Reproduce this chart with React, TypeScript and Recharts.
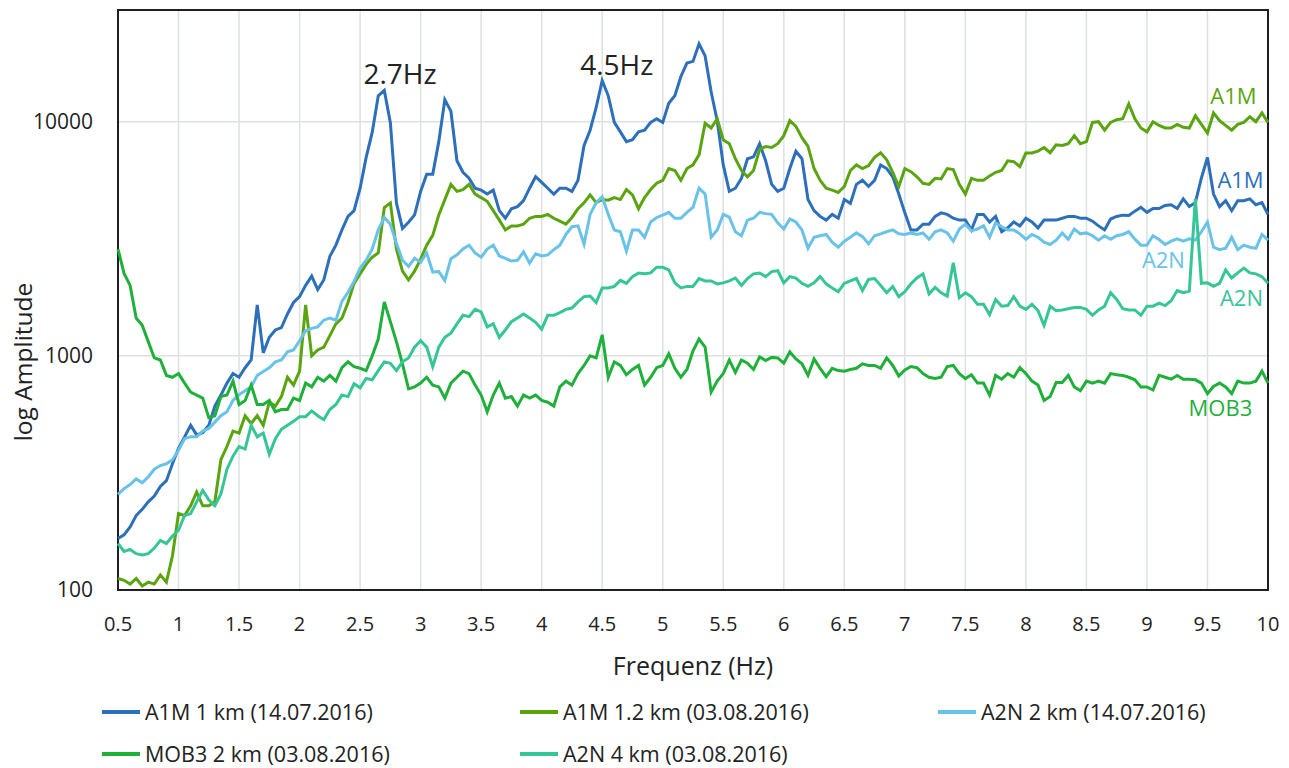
import {
  LineChart,
  Line,
  XAxis,
  YAxis,
  CartesianGrid,
  Legend,
  ReferenceArea,
  ReferenceDot,
} from "recharts";

// frequency grid, 0.5 .. 10 Hz in 0.05 Hz steps
const freqs = Array.from({ length: 191 }, (_, i) => Math.round((0.5 + i * 0.05) * 100) / 100);

const xTicks = [0.5, 1, 1.5, 2, 2.5, 3, 3.5, 4, 4.5, 5, 5.5, 6, 6.5, 7, 7.5, 8, 8.5, 9, 9.5, 10];
const yTicks = [100, 1000, 10000];

// A1M 1 km (14.07.2016)
const a1m1 = [
  166, 172, 186, 208, 221, 238, 252, 277, 293, 346,
  403, 451, 505, 460, 470, 505, 610, 680, 765, 840,
  810, 890, 960, 1650, 1030, 1200, 1290, 1320, 1510, 1690,
  1790, 2000, 2190, 1920, 2110, 2660, 2970, 3450, 3940, 4170,
  5200, 7040, 9000, 12900, 13600, 9900, 4500, 3500, 3720, 4000,
  5040, 5970, 5970, 8220, 12400, 11100, 6810, 6080, 5740, 5200,
  5100, 4910, 5100, 4170, 3870, 4250, 4340, 4600, 5200, 5820,
  5510, 5200, 4910, 5200, 5200, 5040, 5620, 7920, 9200, 11500,
  15000, 12900, 9930, 9050, 8220, 8380, 9050, 9200, 9930, 10300,
  9930, 12000, 12900, 15600, 17800, 18100, 21500, 19100, 13400, 10100,
  6540, 5040, 5200, 5730, 6950, 7080, 8060, 6810, 5400, 5040,
  5200, 6310, 7470, 6950, 4650, 4170, 3940, 3800, 4020, 3870,
  4650, 4480, 5400, 5620, 5290, 5620, 6540, 6310, 5820, 4910,
  4080, 3450, 3450, 3650, 3650, 3940, 4080, 4020, 3870, 3800,
  3800, 3450, 4020, 4020, 3730, 3940, 3390, 3520, 3730, 3590,
  3870, 3730, 3520, 3800, 3800, 3800, 3870, 3940, 3940, 3870,
  3870, 3760, 3590, 3450, 3840, 3940, 3990, 3980, 4150, 4310,
  4100, 4260, 4260, 4390, 4420, 4260, 4680, 4340, 4510, 5750,
  7040, 4910, 4340, 4600, 4170, 4600, 4600, 4680, 4420, 4510,
  4020,
];

// A1M 1.2 km (03.08.2016)
const a1m12 = [
  112, 110, 106, 112, 104, 108, 106, 116, 108, 140,
  212, 208, 229, 262, 229, 229, 238, 360, 410, 477,
  468, 555, 514, 555, 505, 634, 610, 670, 810, 750,
  860, 1650, 1000, 1060, 1090, 1220, 1370, 1450, 1690, 2040,
  2240, 2460, 2640, 2750, 4300, 4500, 2860, 2300, 2110, 2300,
  2590, 2970, 3270, 4000, 4650, 5400, 5040, 5130, 5400, 4910,
  4740, 4570, 4170, 3800, 3450, 3590, 3590, 3650, 3870, 3940,
  3940, 4020, 3870, 3760, 3650, 3900, 4250, 4510, 4870, 4510,
  4650, 4620, 4740, 4650, 5130, 4870, 4250, 4740, 5130, 5460,
  5620, 6310, 6190, 5620, 6310, 6540, 7220, 9850, 9400, 10300,
  8380, 8060, 6950, 6190, 5820, 6190, 7610, 7840, 7760, 8060,
  8720, 10100, 9550, 8550, 7840, 6310, 5620, 5200, 5100, 4990,
  5290, 6190, 6540, 6310, 6490, 7040, 7370, 6880, 6080, 5290,
  6310, 6120, 5820, 5460, 5400, 5730, 5700, 6310, 6250, 5400,
  4910, 5730, 5620, 5620, 5870, 6080, 6190, 6810, 6750, 6430,
  7350, 7350, 7490, 7760, 7370, 7970, 7920, 8060, 8720, 8060,
  8220, 9930, 10000, 9200, 9930, 10200, 10300, 11900, 10300, 9400,
  9050, 10000, 9640, 9400, 9400, 9740, 9470, 9400, 10600, 9740,
  8950, 10900, 10100, 9640, 9200, 9740, 9930, 10500, 10000, 10900,
  9930,
];

// A2N 2 km (14.07.2016)
const a2n2 = [
  256, 271, 282, 298, 287, 304, 328, 340, 346, 360,
  395, 443, 451, 451, 477, 490, 521, 555, 577, 645,
  683, 710, 737, 825, 858, 890, 943, 961, 1040, 1060,
  1160, 1280, 1310, 1330, 1420, 1450, 1420, 1710, 1870, 2080,
  2370, 2560, 2860, 3450, 3900, 3650, 3030, 2560, 2410, 2610,
  2510, 2750, 2280, 2290, 2100, 2600, 2700, 2860, 2970, 2750,
  2640, 2860, 2970, 2670, 2610, 2540, 2560, 2780, 2490, 2730,
  2670, 2700, 2840, 2970, 3300, 3560, 3590, 3000, 4020, 4510,
  4780, 4020, 3450, 3390, 2800, 3450, 3450, 3210, 3730, 3900,
  3990, 4100, 3870, 3870, 4100, 4310, 5200, 4910, 3210, 3450,
  4020, 3910, 3390, 3260, 3800, 3870, 4100, 4050, 4020, 3700,
  3480, 3840, 3730, 3450, 2880, 3210, 3260, 3300, 3060, 2910,
  3090, 3210, 3350, 3230, 3010, 3260, 3320, 3390, 3450, 3320,
  3300, 3350, 3300, 3350, 3150, 3390, 3450, 3350, 3090, 3480,
  3650, 3420, 3480, 3590, 3210, 3700, 3560, 3450, 3450, 3320,
  3150, 3300, 3210, 3060, 2990, 3120, 3350, 3150, 3480, 3320,
  3350, 3260, 3120, 3260, 3150, 3260, 3300, 3390, 3150, 2970,
  2970, 3260, 3140, 2990, 3090, 3160, 3090, 3160, 3120, 3390,
  3730, 2910, 2840, 2880, 3210, 2840, 2970, 2910, 2880, 3300,
  3120,
];

// MOB3 2 km (03.08.2016)
const mob3 = [
  2860, 2250, 2000, 1450, 1350, 1150, 980, 960, 825, 810,
  840, 765, 700, 680, 660, 545, 555, 670, 680, 780,
  620, 645, 750, 620, 620, 645, 577, 590, 590, 660,
  645, 765, 737, 810, 780, 825, 780, 890, 943, 900,
  885, 865, 1000, 1180, 1700, 1400, 1150, 925, 723, 737,
  765, 810, 750, 737, 660, 765, 810, 860, 840, 750,
  680, 577, 680, 765, 660, 670, 610, 680, 660, 680,
  645, 634, 610, 737, 780, 750, 840, 910, 1000, 980,
  1230, 810, 943, 910, 830, 875, 910, 750, 810, 890,
  910, 1020, 885, 810, 875, 1050, 1180, 1090, 700, 780,
  840, 960, 850, 960, 930, 875, 990, 955, 985, 980,
  930, 1040, 970, 925, 825, 970, 885, 815, 885, 865,
  860, 875, 885, 925, 910, 910, 885, 980, 910, 820,
  870, 900, 890, 840, 810, 800, 810, 900, 910, 840,
  800, 830, 765, 765, 680, 825, 795, 840, 810, 890,
  840, 780, 750, 645, 670, 770, 770, 825, 737, 710,
  780, 765, 780, 765, 840, 830, 825, 810, 790, 737,
  737, 715, 825, 810, 795, 825, 795, 795, 790, 765,
  690, 740, 765, 737, 690, 780, 765, 765, 780, 860,
  765,
];

// A2N 4 km (03.08.2016)
const a2n4 = [
  158, 146, 149, 143, 141, 143, 151, 163, 158, 170,
  180, 208, 212, 238, 266, 243, 229, 257, 328, 373,
  410, 400, 505, 451, 468, 380, 443, 486, 505, 525,
  550, 550, 582, 555, 534, 590, 620, 680, 670, 760,
  730, 800, 790, 865, 943, 930, 865, 943, 980, 1090,
  1160, 1090, 900, 1090, 1200, 1250, 1370, 1490, 1470, 1580,
  1540, 1330, 1370, 1200, 1290, 1400, 1450, 1510, 1450, 1390,
  1300, 1490, 1490, 1530, 1580, 1600, 1700, 1790, 1800, 1690,
  1950, 1950, 1980, 2100, 2040, 2180, 2260, 2240, 2260, 2390,
  2390, 2330, 2050, 1950, 1980, 1980, 2140, 2090, 2090, 2030,
  2050, 2090, 2150, 2000, 2140, 2240, 2260, 2180, 2290, 2310,
  2050, 2180, 2150, 2040, 1980, 2050, 2180, 2030, 1950, 1880,
  2040, 2090, 2140, 1900, 2120, 2140, 2000, 1860, 1980, 1790,
  1880, 2030, 2150, 2240, 1840, 1960, 1860, 1800, 2500, 1770,
  1860, 1790, 1660, 1660, 1500, 1740, 1630, 1640, 1790, 1630,
  1580, 1660, 1560, 1350, 1630, 1560, 1570, 1590, 1610, 1610,
  1580, 1490, 1570, 1630, 1860, 1740, 1590, 1570, 1570, 1490,
  1630, 1630, 1680, 1640, 1720, 1900, 1860, 1890, 4700, 2040,
  2050, 1980, 2040, 2330, 2150, 2260, 2370, 2260, 2240, 2180,
  2040,
];

const series = [
  { key: "a1m1", name: "A1M 1 km (14.07.2016)", color: "#2c6fba", values: a1m1 },
  { key: "a1m12", name: "A1M 1.2 km (03.08.2016)", color: "#5aa50f", values: a1m12 },
  { key: "a2n2", name: "A2N 2 km (14.07.2016)", color: "#69c2e8", values: a2n2 },
  { key: "mob3", name: "MOB3 2 km (03.08.2016)", color: "#1fb03a", values: mob3 },
  { key: "a2n4", name: "A2N 4 km (03.08.2016)", color: "#36c596", values: a2n4 },
];

// text annotations in data coordinates
const peakNotes = [
  { text: "2.7Hz", f: 2.83, v: 16000 },
  { text: "4.5Hz", f: 4.62, v: 17500 },
];

const lineNotes = [
  { text: "A1M", f: 9.715, v: 12900, color: "#5aa50f" },
  { text: "A1M", f: 9.773, v: 5650, color: "#2c6fba" },
  { text: "A2N", f: 9.136, v: 2550, color: "#69c2e8" },
  { text: "A2N", f: 9.781, v: 1770, color: "#36c596" },
  { text: "MOB3", f: 9.607, v: 600, color: "#1fb03a" },
];

const data = freqs.map((f, i) => {
  const row: Record<string, number> = { f };
  series.forEach((s) => {
    row[s.key] = s.values[i];
  });
  return row;
});

const legendCols = [102, 520, 938];
const legendRows = [34, 76];

const ChartLegend = () => (
  <div style={{ position: "relative", width: 1289, height: 90 }}>
    {series.map((s, i) => (
      <div
        key={s.key}
        style={{
          position: "absolute",
          left: legendCols[i % 3],
          top: legendRows[Math.floor(i / 3)] - 14,
          height: 28,
          lineHeight: "28px",
          display: "flex",
          alignItems: "center",
          whiteSpace: "nowrap",
          fontSize: 21.5,
          color: "#222",
        }}
      >
        <span style={{ display: "inline-block", width: 38, height: 4, background: s.color, marginRight: 5 }} />
        <span>{s.name}</span>
      </div>
    ))}
  </div>
);

const XTitle = (props: any) => {
  const { viewBox } = props;
  const cx = viewBox.x + viewBox.width / 2;
  return (
    <text x={cx} y={665} textAnchor="middle" dominantBaseline="central" fontSize={25} fill="#222">
      Frequenz (Hz)
    </text>
  );
};

const YTitle = () => (
  <text
    x={22}
    y={362}
    transform="rotate(-90 22 362)"
    textAnchor="middle"
    dominantBaseline="central"
    fontSize={24.5}
    fill="#222"
  >
    log Amplitude
  </text>
);

export default function App() {
  return (
    <div style={{ position: "absolute", left: 0, top: 0, background: "#fff", fontFamily: "'Open Sans', sans-serif" }}>
      <LineChart width={1289} height={768} data={data} margin={{ top: 10, right: 21, bottom: 0, left: 0 }}>
        <CartesianGrid stroke="#dde1e1" strokeWidth={1.5} />
        <XAxis
          dataKey="f"
          type="number"
          domain={[0.5, 10]}
          ticks={xTicks}
          interval={0}
          height={88}
          tickLine={false}
          tickSize={0}
          tickMargin={27}
          axisLine={false}
          tick={{ fill: "#222", fontSize: 20 }}
          label={<XTitle />}
        />
        <YAxis
          type="number"
          scale="log"
          domain={[100, 30000]}
          allowDataOverflow
          ticks={yTicks}
          width={118}
          tickLine={false}
          tickSize={0}
          tickMargin={25}
          axisLine={false}
          tick={{ fill: "#222", fontSize: 21 }}
          label={<YTitle />}
        />
        <ReferenceArea x1={0.5} x2={10} y1={100} y2={30000} fill="none" stroke="#1e1e2a" strokeWidth={2} />
        {series.map((s) => (
          <Line
            key={s.key}
            dataKey={s.key}
            name={s.name}
            stroke={s.color}
            strokeWidth={3}
            dot={false}
            type="linear"
            isAnimationActive={false}
          />
        ))}
        {peakNotes.map((n) => (
          <ReferenceDot
            key={n.text}
            x={n.f}
            y={n.v}
            r={0}
            fill="none"
            stroke="none"
            label={{ value: n.text, position: "center", fill: "#222", fontSize: 28 }}
          />
        ))}
        {lineNotes.map((n, i) => (
          <ReferenceDot
            key={i}
            x={n.f}
            y={n.v}
            r={0}
            fill="none"
            stroke="none"
            label={{ value: n.text, position: "center", fill: n.color, fontSize: 22 }}
          />
        ))}
        <Legend verticalAlign="bottom" height={90} content={<ChartLegend />} />
      </LineChart>
    </div>
  );
}
